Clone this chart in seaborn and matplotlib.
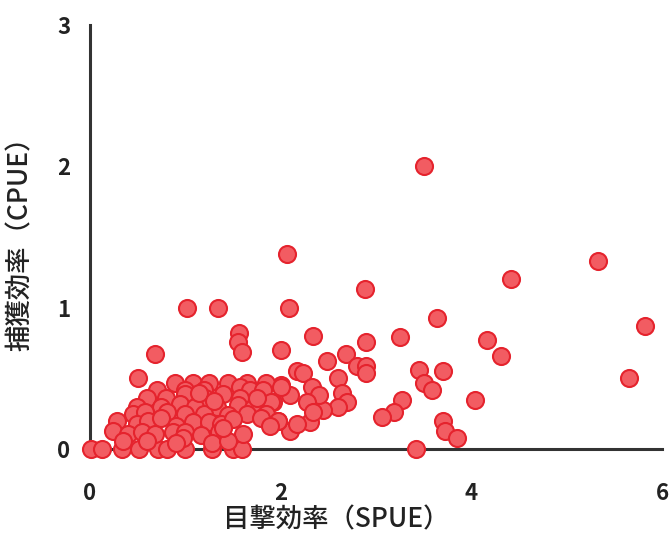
import matplotlib
matplotlib.use("Agg")
import matplotlib.pyplot as plt
import pandas as pd
import seaborn as sns

# 目撃効率 (SPUE) と 捕獲効率 (CPUE)
spue = [
    3.50, 2.07, 5.33, 2.89, 4.42, 1.02, 1.34, 2.09, 5.82, 3.64,
    1.56, 1.55, 1.60, 0.68, 2.34, 3.25, 2.90, 4.17, 4.31, 2.01,
    0.51, 5.65, 2.49, 2.69, 2.80, 2.90, 2.90, 3.45, 3.50, 3.59,
    3.70, 4.04, 3.27, 3.19, 3.06, 3.70, 3.73, 3.85, 3.42, 2.17,
    2.24, 2.60, 2.65, 2.70, 2.60, 2.45, 2.33, 2.40, 2.28, 2.01,
    2.10, 1.92, 2.31, 2.10, 2.17, 2.34, 1.97,
    # y = 0
    0.01, 0.13, 0.34, 0.52, 0.72, 0.81, 1.00, 1.28, 1.50, 1.60,
    # cluster
    0.89, 1.08, 1.25, 1.45, 1.65, 1.85,
    0.70, 1.00, 1.20, 1.57, 1.68, 1.82, 2.00,
    0.60, 0.80, 1.00, 1.21, 1.40, 1.58,
    0.50, 0.75, 0.95, 1.10, 1.33, 1.55, 1.71, 1.90,
    0.45, 0.58, 0.81, 1.00, 1.20, 1.45, 1.65, 1.85,
    0.29, 0.49, 0.61, 0.90, 1.08, 1.25, 1.38, 1.50, 1.80, 1.97,
    0.24, 0.40, 0.55, 0.68, 0.87, 1.00, 1.17, 1.35, 1.61, 1.89,
    0.35, 0.60, 0.98, 1.28, 1.45,
    1.15, 1.30, 0.75, 1.75, 0.90, 1.40,
]
cpue = [
    2.00, 1.38, 1.33, 1.13, 1.20, 1.00, 1.00, 1.00, 0.87, 0.93,
    0.82, 0.76, 0.69, 0.67, 0.80, 0.79, 0.76, 0.77, 0.66, 0.70,
    0.50, 0.50, 0.62, 0.67, 0.59, 0.59, 0.54, 0.56, 0.47, 0.42,
    0.55, 0.35, 0.35, 0.26, 0.23, 0.20, 0.13, 0.08, 0.00, 0.55,
    0.54, 0.50, 0.40, 0.33, 0.30, 0.28, 0.44, 0.38, 0.33, 0.45,
    0.38, 0.33, 0.19, 0.13, 0.18, 0.26, 0.20,
    0.00, 0.00, 0.00, 0.00, 0.00, 0.00, 0.00, 0.00, 0.00, 0.00,
    0.47, 0.47, 0.47, 0.47, 0.47, 0.47,
    0.42, 0.42, 0.42, 0.44, 0.42, 0.42, 0.44,
    0.36, 0.36, 0.39, 0.36, 0.39, 0.36,
    0.30, 0.30, 0.32, 0.30, 0.30, 0.31, 0.29, 0.33,
    0.25, 0.26, 0.26, 0.25, 0.25, 0.24, 0.25, 0.25,
    0.20, 0.18, 0.20, 0.16, 0.19, 0.19, 0.18, 0.21, 0.22, 0.20,
    0.13, 0.11, 0.12, 0.11, 0.12, 0.12, 0.10, 0.12, 0.11, 0.16,
    0.06, 0.06, 0.08, 0.04, 0.06,
    0.40, 0.34, 0.22, 0.36, 0.04, 0.15,
]
x_ticks = [0, 2, 4, 6]
y_ticks = [0, 1, 2, 3]

df = pd.DataFrame({"SPUE": spue, "CPUE": cpue})

sns.set_style("white")
plt.rcParams["font.family"] = ["Noto Sans CJK JP", "DejaVu Sans"]

fig = plt.figure(figsize=(6.7, 5.45), dpi=100)
ax = fig.add_axes([0.134, 0.176, 0.854, 0.778])
sns.scatterplot(data=df, x="SPUE", y="CPUE", ax=ax, s=150,
                color="#f25c62", edgecolor="#e5232d", linewidth=1.5,
                clip_on=False, zorder=3)

ax.set_xlim(0, 6)
ax.set_ylim(0, 3)
ax.set_xticks(x_ticks)
ax.set_yticks(y_ticks)
ax.tick_params(axis="x", direction="out", length=5, width=2, pad=19,
               labelsize=16, colors="#222222")
ax.tick_params(axis="y", direction="out", length=5, width=2, pad=9,
               labelsize=16, colors="#222222")
for lab in ax.get_xticklabels() + ax.get_yticklabels():
    lab.set_fontweight("bold")
sns.despine(ax=ax)
for sp in ("left", "bottom"):
    ax.spines[sp].set_linewidth(2.2)
    ax.spines[sp].set_color("#333333")

ax.set_xlabel("目撃効率（SPUE）", fontsize=19, color="#222222", fontweight="medium")
ax.set_ylabel("捕獲効率（CPUE）", fontsize=19, color="#222222", fontweight="medium")
ax.xaxis.set_label_coords(0.43, -0.135)
ax.yaxis.set_label_coords(-0.098, 0.5)

fig.savefig("out.png", dpi=100)
